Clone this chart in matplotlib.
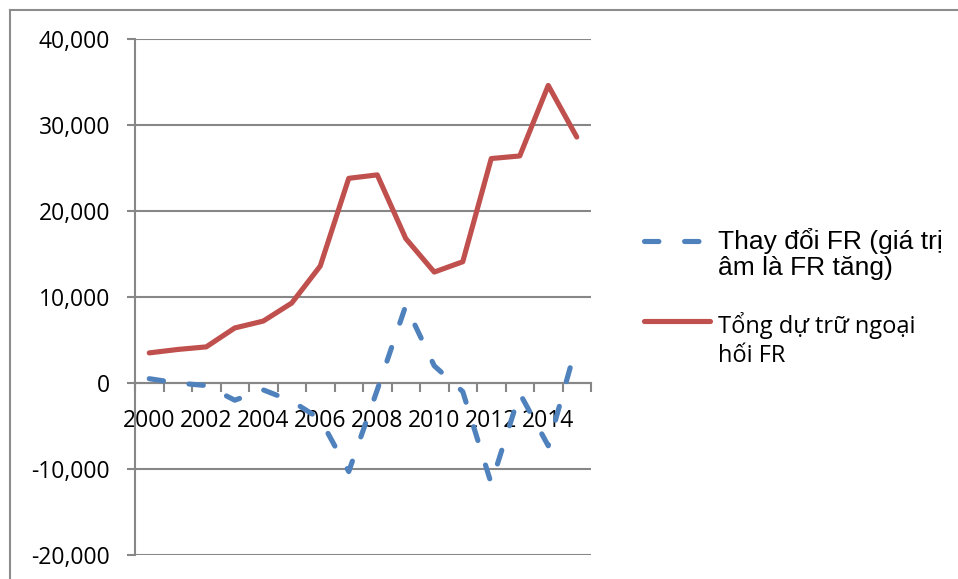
import matplotlib
matplotlib.use("Agg")
import matplotlib.pyplot as plt
from matplotlib.lines import Line2D
from matplotlib.ticker import FuncFormatter, FixedLocator
import numpy as np

# Data
years = list(range(2000, 2016))
fr_change = [500, 0, -300, -2000, -800, -2100, -4200, -10300, -800, 9000,
             2000, -1000, -11700, -1200, -7300, 4500]
fr_total = [3500, 3900, 4200, 6400, 7200, 9300, 13600, 23800, 24200, 16800,
            12900, 14100, 26100, 26400, 34600, 28600]
labels = ["Thay đổi FR (giá trị\nâm là FR tăng)", "Tổng dự trữ ngoại\nhối FR"]
y_ticks = [-20000, -10000, 0, 10000, 20000, 30000, 40000]

BLUE = "#4F81BD"
RED = "#C0504D"
GRID = "#878787"
W, H = 958, 579

fig = plt.figure(figsize=(W / 100, H / 100), dpi=100)
ax = fig.add_axes([135 / W, 1 - 555 / H, (591 - 135) / W, (555 - 39) / H])

x = np.arange(len(years))
ax.plot(x, fr_change, color=BLUE, lw=3.7, linestyle=(0, (2.8, 5)),
        dash_capstyle="round", solid_capstyle="round", zorder=3)
ax.plot(x, fr_total, color=RED, lw=3.7, solid_capstyle="round",
        solid_joinstyle="round", zorder=4)

ax.set_xlim(-0.5, len(years) - 0.5)
ax.set_ylim(-20000, 40000)

# axes look (Excel style)
for s in ["top", "right"]:
    ax.spines[s].set_visible(False)
ax.spines["bottom"].set_position(("data", 0))
ax.spines["left"].set_color(GRID)
ax.spines["bottom"].set_color(GRID)
ax.spines["left"].set_linewidth(1.5)
ax.spines["bottom"].set_linewidth(1.5)

ax.yaxis.set_major_locator(FixedLocator(y_ticks))
ax.yaxis.set_major_formatter(FuncFormatter(lambda v, p: f"{v:,.0f}"))
ax.grid(axis="y", color=GRID, lw=1.5, zorder=1)
ax.set_axisbelow(True)
ax.tick_params(axis="y", direction="out", length=6, width=1.5, color=GRID,
               pad=12, labelsize=16.5)

ax.set_xticks(x[::2])
ax.set_xticklabels([str(y) for y in years[::2]])
ax.set_xticks(np.arange(-0.5, len(years)), minor=True)
ax.tick_params(axis="x", which="major", length=0, pad=19, labelsize=16.5)
ax.tick_params(axis="x", which="minor", direction="out", length=6.5,
               width=1.5, color=GRID)

for lab in ax.get_xticklabels() + ax.get_yticklabels():
    lab.set_fontfamily(["Open Sans", "DejaVu Sans"])

# chart-area border (left and top visible)
fig.add_artist(Line2D([10 / W, 10 / W], [0, 1 - 10 / H], transform=fig.transFigure,
                      color="#8C8C8C", lw=1.5))
fig.add_artist(Line2D([10 / W, 1], [1 - 10 / H, 1 - 10 / H], transform=fig.transFigure,
                      color="#8C8C8C", lw=1.5))

# legend drawn by hand so the handle sits on the first text line
# (va='baseline' on multi-line text anchors the last line)
fig.add_artist(Line2D([644 / W, 700 / W], [1 - 241 / H] * 2, transform=fig.transFigure,
                      color=BLUE, lw=3.7, linestyle=(0, (2.8, 5)),
                      dash_capstyle="round"))
fig.text(718 / W, 1 - 275 / H, labels[0], ha="left", va="baseline",
         fontsize=19, family=["Liberation Sans", "DejaVu Sans"], linespacing=1.12)
fig.add_artist(Line2D([644 / W, 710 / W], [1 - 321 / H] * 2, transform=fig.transFigure,
                      color=RED, lw=3.7, solid_capstyle="round"))
fig.text(718 / W, 1 - 362 / H, labels[1], ha="left", va="baseline",
         fontsize=17, family=["Open Sans", "DejaVu Sans"], linespacing=1.3)

fig.savefig("out.png", dpi=100)
